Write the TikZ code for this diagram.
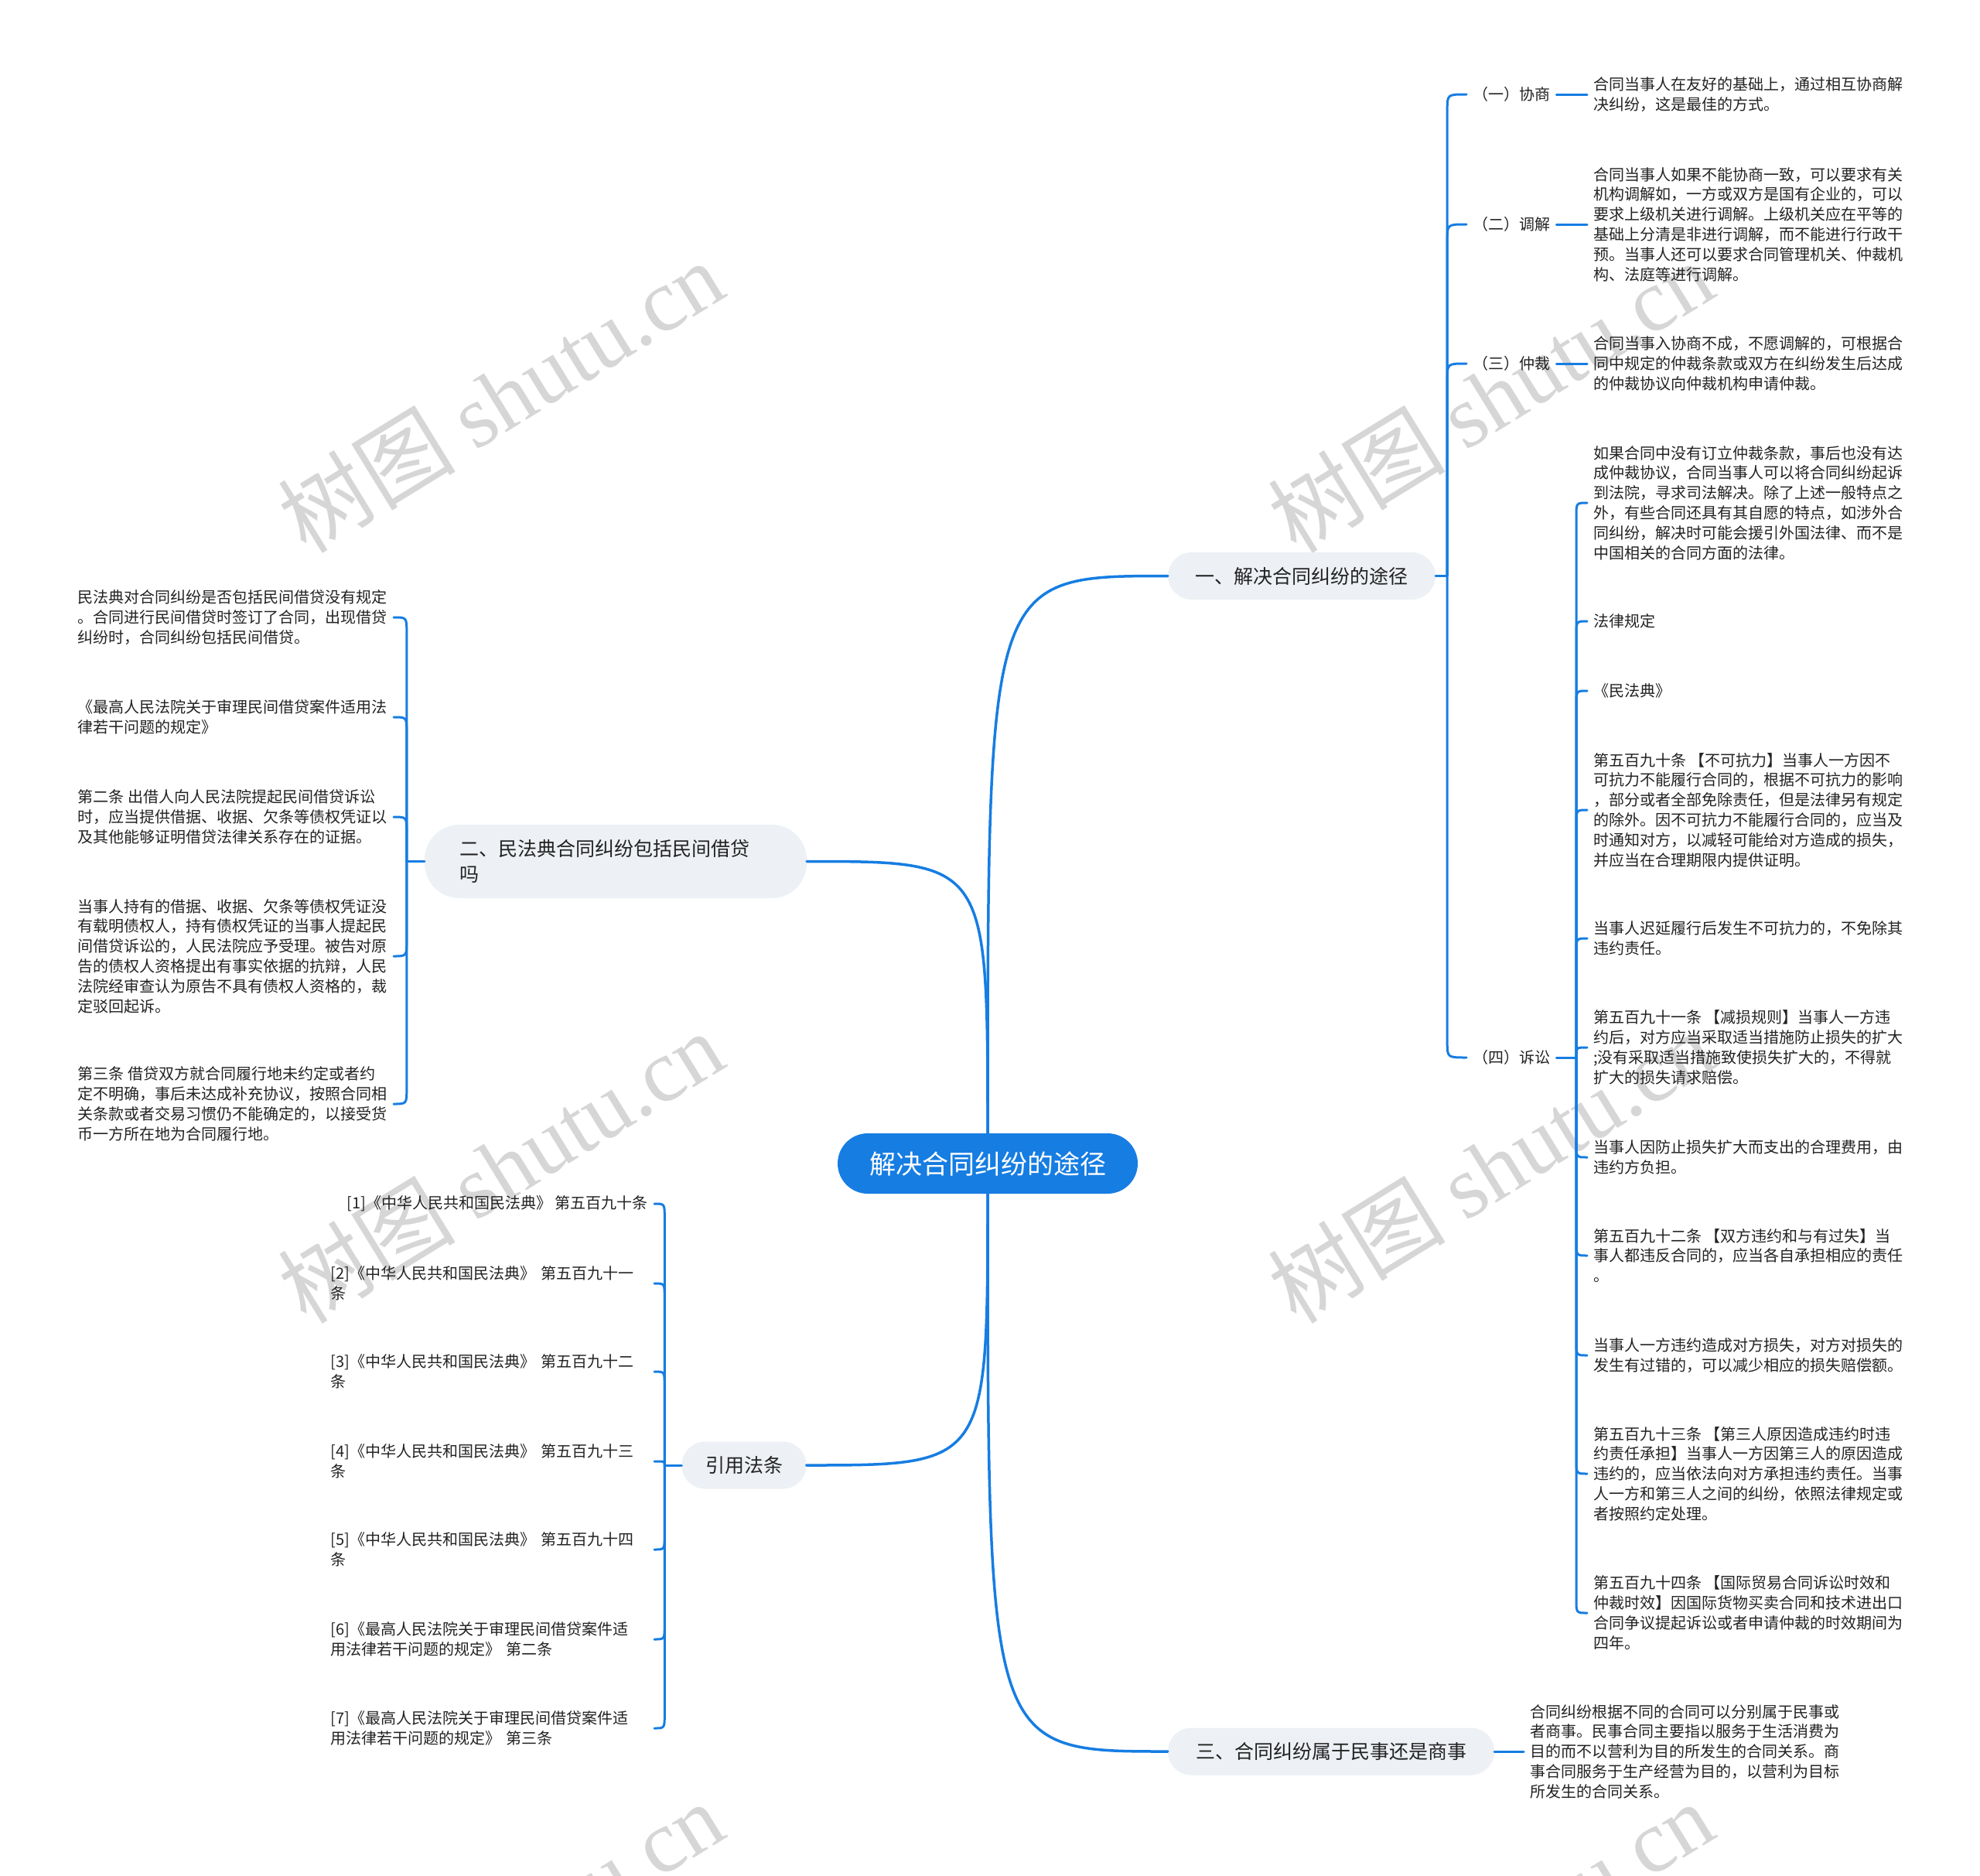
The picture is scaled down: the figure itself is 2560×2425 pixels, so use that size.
\documentclass[tikz,border=0pt]{standalone}
\usepackage{fontspec}
\usetikzlibrary{calc}
\newfontfamily\cjk{Noto Sans CJK SC}
\newfontfamily\wmserif{Liberation Serif}
\definecolor{mapblue}{RGB}{22,125,226}
\definecolor{topicbg}{RGB}{237,240,244}
\definecolor{ink}{RGB}{34,34,34}
\definecolor{wmgray}{RGB}{214,214,214}
\newcommand\twig[3]{\draw[twig] (#1) -- ($(#1 |- #2)+(0,#3)$) .. controls (#1 |- #2) .. (#2);}

\begin{document}
\begin{tikzpicture}[x=1pt,y=-1pt,line cap=round,line join=round,
  link/.style={mapblue,line width=3.5pt},
  twig/.style={mapblue,line width=3pt},
  root/.style={fill=mapblue,text=white,rounded corners=39pt,minimum width=388pt,
    minimum height=78pt,inner sep=0pt,font=\cjk\fontsize{34}{40}\selectfont},
  topic/.style={fill=topicbg,text=ink,rounded corners=30pt,inner xsep=35pt,
    minimum height=61pt,font=\cjk\fontsize{25}{33}\selectfont},
  lab/.style={text=ink,inner xsep=8pt,inner ysep=2pt,font=\cjk\fontsize{20}{25.8}\selectfont},
  leaf/.style={lab,align=left},
  ref/.style={lab,text width=410pt,align=left,anchor=east},
  wm/.style={wmgray,rotate=31.6,inner sep=0pt}]
  \useasboundingbox (0,0) rectangle (2560,2425);
  % watermark
  \foreach \wx in {647,1927}{\foreach \wy in {512,1508,2504}{
    \node[wm] (wm-\wx-\wy) at (\wx,\wy) {\cjk\fontsize{115}{115}\selectfont 树图 {\wmserif shutu.cn}};}}
  \node[root] (root) at (1277,1504) {解决合同纠纷的途径};
  \node[topic,minimum width=346pt,rounded corners=31pt] (t1) at (1683,744.5) {一、解决合同纠纷的途径};
  \node[topic,minimum height=95pt,text width=404pt,align=left,inner xsep=45pt,
    rounded corners=45pt,font=\cjk\fontsize{25}{33}\selectfont] (t2) at (796,1113.5)
    {二、民法典合同纠纷包括民间借贷\\吗};
  \node[topic,minimum width=422pt] (t3) at (1721,2264) {三、合同纠纷属于民事还是商事};
  \node[topic,minimum width=161pt,inner xsep=20pt] (t4) at (962,1894) {引用法条};
  \draw[link] (root.north) .. controls (root.north |- t1.west) .. (t1.west);
  \draw[link] (root.north) .. controls (root.north |- t2.east) .. (t2.east);
  \draw[link] (root.south) .. controls (root.south |- t3.west) .. (t3.west);
  \draw[link] (root.south) .. controls (root.south |- t4.east) .. (t4.east);

  \coordinate (s1) at ($(t1.east)+(15,0)$);
  \draw[twig] (t1.east) -- (s1);
  \node[lab,anchor=west] (k1) at (1896,122) {（一）协商};
  \node[lab,anchor=west] (k2) at (1896,290) {（二）调解};
  \node[lab,anchor=west] (k3) at (1896,470) {（三）仲裁};
  \node[lab,anchor=west] (k4) at (1896,1367) {（四）诉讼};
  \twig{s1}{k1.west}{20}
  \twig{s1}{k2.west}{20}
  \twig{s1}{k3.west}{20}
  \twig{s1}{k4.west}{-20}
  \node[leaf,anchor=west] (f1) at (2052,122) {合同当事人在友好的基础上，通过相互协商解\\决纠纷，这是最佳的方式。};
  \node[leaf,anchor=west] (f2) at (2052,290) {合同当事人如果不能协商一致，可以要求有关\\机构调解如，一方或双方是国有企业的，可以\\要求上级机关进行调解。上级机关应在平等的\\基础上分清是非进行调解，而不能进行行政干\\预。当事人还可以要求合同管理机关、仲裁机\\构、法庭等进行调解。};
  \node[leaf,anchor=west] (f3) at (2052,470) {合同当事入协商不成，不愿调解的，可根据合\\同中规定的仲裁条款或双方在纠纷发生后达成\\的仲裁协议向仲裁机构申请仲裁。};
  \draw[twig] (k1.east) -- (f1.west);
  \draw[twig] (k2.east) -- (f2.west);
  \draw[twig] (k3.east) -- (f3.west);

  \coordinate (s2) at (2038,1367);
  \draw[twig] (k4.east) -- (s2);
  \node[leaf,anchor=west] (c1) at (2052,650) {如果合同中没有订立仲裁条款，事后也没有达\\成仲裁协议，合同当事人可以将合同纠纷起诉\\到法院，寻求司法解决。除了上述一般特点之\\外，有些合同还具有其自愿的特点，如涉外合\\同纠纷，解决时可能会援引外国法律、而不是\\中国相关的合同方面的法律。};
  \node[leaf,anchor=west] (c2) at (2052,803) {法律规定};
  \node[leaf,anchor=west] (c3) at (2052,893) {《民法典》};
  \node[leaf,anchor=west] (c4) at (2052,1047) {第五百九十条~【不可抗力】当事人一方因不\\可抗力不能履行合同的，根据不可抗力的影响\\，部分或者全部免除责任，但是法律另有规定\\的除外。因不可抗力不能履行合同的，应当及\\时通知对方，以减轻可能给对方造成的损失，\\并应当在合理期限内提供证明。};
  \node[leaf,anchor=west] (c5) at (2052,1213) {当事人迟延履行后发生不可抗力的，不免除其\\违约责任。};
  \node[leaf,anchor=west] (c6) at (2052,1354) {第五百九十一条~【减损规则】当事人一方违\\约后，对方应当采取适当措施防止损失的扩大\\;没有采取适当措施致使损失扩大的，不得就\\扩大的损失请求赔偿。};
  \node[leaf,anchor=west] (c7) at (2052,1496) {当事人因防止损失扩大而支出的合理费用，由\\违约方负担。};
  \node[leaf,anchor=west] (c8) at (2052,1623) {第五百九十二条~【双方违约和与有过失】当\\事人都违反合同的，应当各自承担相应的责任\\。};
  \node[leaf,anchor=west] (c9) at (2052,1752) {当事人一方违约造成对方损失，对方对损失的\\发生有过错的，可以减少相应的损失赔偿额。};
  \node[leaf,anchor=west] (c10) at (2052,1905) {第五百九十三条~【第三人原因造成违约时违\\约责任承担】当事人一方因第三人的原因造成\\违约的，应当依法向对方承担违约责任。当事\\人一方和第三人之间的纠纷，依照法律规定或\\者按照约定处理。};
  \node[leaf,anchor=west] (c11) at (2052,2085) {第五百九十四条~【国际贸易合同诉讼时效和\\仲裁时效】因国际货物买卖合同和技术进出口\\合同争议提起诉讼或者申请仲裁的时效期间为\\四年。};
  \twig{s2}{c1.west}{18}
  \twig{s2}{c2.west}{18}
  \twig{s2}{c3.west}{18}
  \twig{s2}{c4.west}{18}
  \twig{s2}{c5.west}{18}
  \twig{s2}{c6.west}{10}
  \twig{s2}{c7.west}{-18}
  \twig{s2}{c8.west}{-18}
  \twig{s2}{c9.west}{-18}
  \twig{s2}{c10.west}{-18}
  \twig{s2}{c11.west}{-18}

  \node[leaf,anchor=west] (g1) at (1970,2264) {合同纠纷根据不同的合同可以分别属于民事或\\者商事。民事合同主要指以服务于生活消费为\\目的而不以营利为目的所发生的合同关系。商\\事合同服务于生产经营为目的，以营利为目标\\所发生的合同关系。};
  \draw[twig] (t3.east) -- (g1.west);

  \coordinate (s3) at ($(t2.west)+(-23,0)$);
  \draw[twig] (t2.west) -- (s3);
  \node[leaf,anchor=east] (l1) at (509,798) {民法典对合同纠纷是否包括民间借贷没有规定\\。合同进行民间借贷时签订了合同，出现借贷\\纠纷时，合同纠纷包括民间借贷。};
  \node[leaf,anchor=east] (l2) at (509,927) {《最高人民法院关于审理民间借贷案件适用法\\律若干问题的规定》};
  \node[leaf,anchor=east] (l3) at (509,1056) {第二条~出借人向人民法院提起民间借贷诉讼\\时，应当提供借据、收据、欠条等债权凭证以\\及其他能够证明借贷法律关系存在的证据。};
  \node[leaf,anchor=east] (l4) at (509,1236) {当事人持有的借据、收据、欠条等债权凭证没\\有载明债权人，持有债权凭证的当事人提起民\\间借贷诉讼的，人民法院应予受理。被告对原\\告的债权人资格提出有事实依据的抗辩，人民\\法院经审查认为原告不具有债权人资格的，裁\\定驳回起诉。};
  \node[leaf,anchor=east] (l5) at (509,1427) {第三条~借贷双方就合同履行地未约定或者约\\定不明确，事后未达成补充协议，按照合同相\\关条款或者交易习惯仍不能确定的，以接受货\\币一方所在地为合同履行地。};
  \twig{s3}{l1.east}{20}
  \twig{s3}{l2.east}{20}
  \twig{s3}{l3.east}{20}
  \twig{s3}{l4.east}{-20}
  \twig{s3}{l5.east}{-20}

  \coordinate (s4) at ($(t4.west)+(-22,0)$);
  \draw[twig] (t4.west) -- (s4);
  \node[lab,anchor=east] (r1) at (846,1556) {[1]《中华人民共和国民法典》~第五百九十条};
  \node[ref] (r2) at (846,1659) {[2]《中华人民共和国民法典》~第五百九十一\\条};
  \node[ref] (r3) at (846,1773) {[3]《中华人民共和国民法典》~第五百九十二\\条};
  \node[ref] (r4) at (846,1889) {[4]《中华人民共和国民法典》~第五百九十三\\条};
  \node[ref] (r5) at (846,2003) {[5]《中华人民共和国民法典》~第五百九十四\\条};
  \node[ref] (r6) at (846,2119) {[6]《最高人民法院关于审理民间借贷案件适\\用法律若干问题的规定》~第二条};
  \node[ref] (r7) at (846,2234) {[7]《最高人民法院关于审理民间借贷案件适\\用法律若干问题的规定》~第三条};
  \twig{s4}{r1.east}{18}
  \twig{s4}{r2.east}{18}
  \twig{s4}{r3.east}{18}
  \twig{s4}{r4.east}{4}
  \twig{s4}{r5.east}{-18}
  \twig{s4}{r6.east}{-18}
  \twig{s4}{r7.east}{-18}
\end{tikzpicture}
\end{document}
